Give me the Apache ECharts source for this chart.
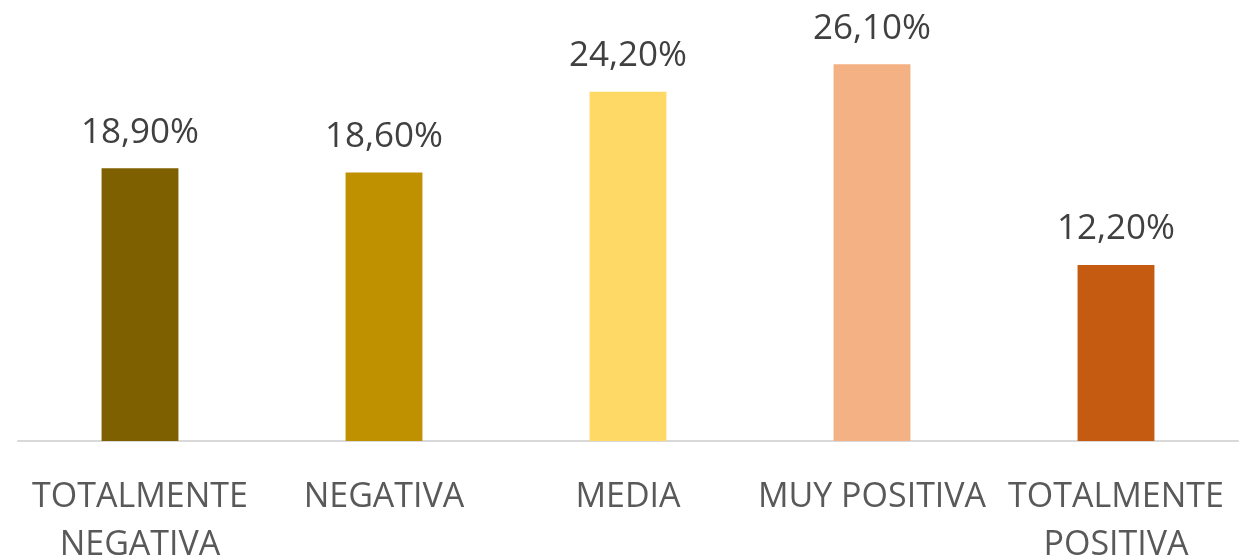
<!DOCTYPE html>
<html>
<head>
<meta charset="utf-8">
<script src="https://cdn.jsdelivr.net/npm/echarts@6/dist/echarts.min.js"></script>
<style>
  html, body { margin: 0; padding: 0; background: #fff; }
  #chart { width: 1248px; height: 559px; }
</style>
</head>
<body>
<div id="chart"></div>
<script>
  // categorias y valores (%)
  const categories = ['TOTALMENTE\nNEGATIVA', 'NEGATIVA', 'MEDIA', 'MUY POSITIVA', 'TOTALMENTE\nPOSITIVA'];
  const values = [18.9, 18.6, 24.2, 26.1, 12.2];
  const barColors = ['#7F6000', '#BF9000', '#FFD966', '#F4B183', '#C55A11'];

  const chart = echarts.init(document.getElementById('chart'));
  chart.setOption({
    animation: false,
    grid: { left: 18, right: 10, top: 8, bottom: 118, outerBoundsMode: 'none', containLabel: false },
    xAxis: {
      type: 'category',
      data: categories,
      axisLine: { lineStyle: { color: '#D9D9D9', width: 2 } },
      axisTick: { show: false },
      axisLabel: {
        color: '#595959',
        fontFamily: 'Open Sans',
        fontSize: 34,
        margin: 32,
        lineHeight: 48,
        interval: 0
      }
    },
    yAxis: {
      type: 'value',
      min: 0,
      max: 30,
      show: false,
      splitLine: { show: false }
    },
    series: [{
      type: 'bar',
      barWidth: '31.5%',
      data: values.map((v, i) => ({ value: v, itemStyle: { color: barColors[i] } })),
      label: {
        show: true,
        position: 'top',
        distance: 18,
        color: '#404040',
        fontFamily: 'Open Sans',
        fontSize: 35,
        formatter: p => p.value.toFixed(2).replace('.', ',') + '%'
      }
    }]
  });
</script>
</body>
</html>
